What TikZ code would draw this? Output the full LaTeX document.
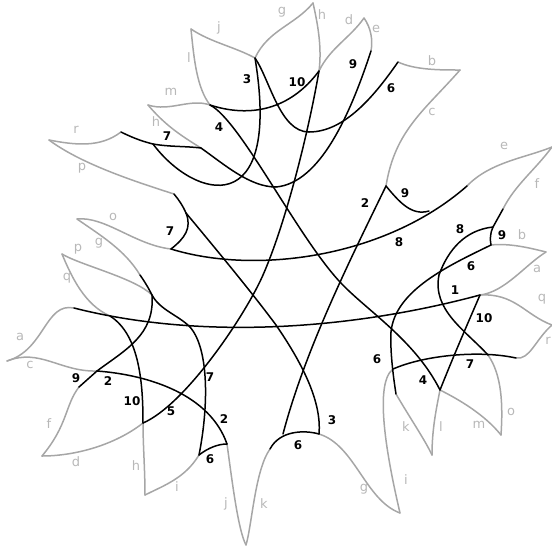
\documentclass[tikz,border=0pt]{standalone}
\usepackage{fontspec}
\setmainfont{DejaVu Sans}
\usetikzlibrary{positioning}

\begin{document}
\begin{tikzpicture}[
        x=1pt, y=-1pt,
        rim/.style={line width=1.5pt, black!35, line cap=round},
        seam/.style={line width=1.5pt, black, line cap=round},
        edgenum/.style={font=\fontsize{12}{12}\selectfont\bfseries, inner sep=0pt},
        sidename/.style={font=\fontsize{13}{13}\selectfont, text=black!28, inner sep=0pt}
    ]
    \useasboundingbox (0,0) rectangle (552,550);

    % Corners on the outline
    \coordinate (jl) at (191,29);
    \coordinate (jg) at (255,58);
    \coordinate (lm) at (210,105);
    \coordinate (mh) at (148,105);
    \coordinate (hs) at (201,148);
    \coordinate (rp) at (49,140);
    \coordinate (rs) at (121,132);
    \coordinate (ps) at (174,194);
    \coordinate (og) at (77,219);
    \coordinate (os) at (171,249);
    \coordinate (gs) at (140,275);
    \coordinate (pq) at (62,254);
    \coordinate (pg) at (152,295);
    \coordinate (qs) at (110,316);
    \coordinate (as) at (74,308);
    \coordinate (ac) at (7,361);
    \coordinate (cs) at (97,371);
    \coordinate (fs) at (79,387);
    \coordinate (fd) at (42,456);
    \coordinate (dh) at (143,423);
    \coordinate (hi) at (145,495);
    \coordinate (is) at (199,455);
    \coordinate (js) at (227,444);
    \coordinate (jk) at (246,545);
    \coordinate (ks) at (270,449);
    \coordinate (gb) at (319,434);
    \coordinate (gi) at (400,513);
    \coordinate (ib) at (393,369);
    \coordinate (kb) at (396,394);
    \coordinate (kl) at (432,455);
    \coordinate (lb) at (440,390);
    \coordinate (mo) at (501,435);
    \coordinate (ob) at (488,355);
    \coordinate (rb) at (516,358);
    \coordinate (qr) at (552,325);
    \coordinate (qa) at (480,295);
    \coordinate (ab) at (546,252);
    \coordinate (bb) at (491,245);
    \coordinate (fb) at (503,209);
    \coordinate (fe) at (552,147);
    \coordinate (eb) at (467,186);
    \coordinate (cb) at (386,186);
    \coordinate (cc) at (460,70);
    \coordinate (bt) at (398,62);
    \coordinate (et) at (371,51);
    \coordinate (de) at (364,18);
    \coordinate (dh2) at (319,71);
    \coordinate (gh) at (313,3);

    % Points where the seams bend or meet
    \coordinate (sa) at (153,144);
    \coordinate (sb) at (276,187);
    \coordinate (sc) at (340,282);
    \coordinate (sd) at (309,132);
    \coordinate (se) at (263,275);
    \coordinate (sf) at (186,213);
    \coordinate (sg) at (276,325);
    \coordinate (sh) at (429,211);
    \coordinate (si) at (493,227);
    \coordinate (sj) at (439,275);
    \coordinate (sk) at (391,332);
    \coordinate (sl) at (190,327);
    \coordinate (sm) at (283,434);

    % Outline
    \draw[rim] (jl) .. controls (210,42) and (235,47) .. (jg);
    \draw[rim] (jl) .. controls (194,60) and (197,88) .. (lm);
    \draw[rim] (mh) .. controls (170,112) and (190,98) .. (lm);
    \draw[rim] (mh) .. controls (165,125) and (180,135) .. (hs);
    \draw[rim] (rp) .. controls (75,145) and (100,148) .. (rs);
    \draw[rim] (rp) .. controls (80,163) and (130,180) .. (ps);
    \draw[rim] (og) .. controls (105,216) and (135,245) .. (os);
    \draw[rim] (og) .. controls (100,235) and (125,250) .. (gs);
    \draw[rim] (pq) .. controls (80,265) and (135,278) .. (pg);
    \draw[rim] (pq) .. controls (72,278) and (85,305) .. (qs);
    \draw[rim] (as) .. controls (45,302) and (45,350) .. (ac);
    \draw[rim] (ac) .. controls (40,348) and (60,372) .. (cs);
    \draw[rim] (fs) .. controls (65,405) and (68,425) .. (fd);
    \draw[rim] (fd) .. controls (75,456) and (115,445) .. (dh);
    \draw[rim] (dh) .. controls (143,445) and (145,470) .. (hi);
    \draw[rim] (hi) .. controls (165,485) and (185,478) .. (is);
    \draw[rim] (js) .. controls (232,480) and (238,530) .. (jk);
    \draw[rim] (jk) .. controls (252,525) and (255,470) .. (ks);
    \draw[rim] (gb) .. controls (355,445) and (365,500) .. (gi);
    \draw[rim] (gi) .. controls (390,470) and (372,385) .. (ib);
    \draw[rim] (kb) .. controls (410,418) and (425,440) .. (kl);
    \draw[rim] (kl) .. controls (432,430) and (436,410) .. (lb);
    \draw[rim] (lb) .. controls (460,400) and (485,415) .. (mo);
    \draw[rim] (mo) .. controls (503,405) and (502,375) .. (ob);
    \draw[rim] (rb) .. controls (530,360) and (535,340) .. (qr);
    \draw[rim] (qr) .. controls (525,315) and (515,293) .. (qa);
    \draw[rim] (qa) .. controls (505,292) and (525,265) .. (ab);
    \draw[rim] (bb) .. controls (510,243) and (530,248) .. (ab);
    \draw[rim] (fb) .. controls (515,185) and (535,170) .. (fe);
    \draw[rim] (fe) .. controls (525,158) and (490,162) .. (eb);
    \draw[rim] (cb) .. controls (395,130) and (425,110) .. (cc);
    \draw[rim] (bt) .. controls (415,70) and (440,70) .. (cc);
    \draw[rim] (et) .. controls (373,40) and (371,28) .. (de);
    \draw[rim] (de) .. controls (350,38) and (330,48) .. (dh2);
    \draw[rim] (dh2) .. controls (322,48) and (318,25) .. (gh);
    \draw[rim] (gh) .. controls (295,25) and (268,30) .. (jg);

    % Seams
    \draw[seam] (as) .. controls (200,340) and (350,330) .. (qa);
    \draw[seam] (jg) .. controls (282,222) and (195,200) .. (sa);
    \draw[seam] (rs) .. controls (135,139) and (145,142) .. (sa);
    \draw[seam] (sa) .. controls (170,147) and (185,146) .. (hs);
    \draw[seam] (hs) .. controls (225,165) and (250,187) .. (sb);
    \draw[seam] (sb) .. controls (320,183) and (350,115) .. (et);
    \draw[seam] (lm) .. controls (240,120) and (297,236) .. (sc);
    \draw[seam] (sc) .. controls (366,310) and (415,340) .. (lb);
    \draw[seam] (lm) .. controls (250,118) and (290,110) .. (dh2);
    \draw[seam] (jg) .. controls (270,80) and (280,132) .. (sd);
    \draw[seam] (sd) .. controls (345,132) and (375,95) .. (bt);
    \draw[seam] (dh2) .. controls (308,135) and (285,225) .. (se);
    \draw[seam] (se) .. controls (245,316) and (185,405) .. (dh);
    \draw[seam] (cb) .. controls (350,260) and (305,350) .. (sm);
    \draw[seam] (ps) .. controls (179,200) and (183,206) .. (sf);
    \draw[seam] (sf) .. controls (192,228) and (185,238) .. (os);
    \draw[seam] (sf) .. controls (215,248) and (250,290) .. (sg);
    \draw[seam] (sg) .. controls (300,360) and (322,400) .. (gb);
    \draw[seam] (os) .. controls (255,275) and (385,258) .. (eb);
    \draw[seam] (cb) .. controls (400,203) and (412,216) .. (sh);
    \draw[seam] (fb) -- (si);
    \draw[seam] (si) .. controls (490,233) and (490,240) .. (bb);
    \draw[seam] (si) .. controls (465,230) and (448,250) .. (sj);
    \draw[seam] (sj) .. controls (432,310) and (465,330) .. (ob);
    \draw[seam] (bb) .. controls (450,265) and (395,290) .. (sk);
    \draw[seam] (sk) .. controls (390,350) and (393,375) .. (kb);
    \draw[seam] (ib) .. controls (425,355) and (480,350) .. (rb);
    \draw[seam] (qa) .. controls (464,332) and (454,355) .. (lb);
    \draw[seam] (cs) .. controls (150,375) and (210,395) .. (js);
    \draw[seam] (qs) .. controls (140,335) and (143,385) .. (dh);
    \draw[seam] (fs) -- (cs);
    \draw[seam] (cs) .. controls (125,350) and (155,335) .. (pg);
    \draw[seam] (gs) .. controls (145,282) and (149,289) .. (pg);
    \draw[seam] (pg) .. controls (160,310) and (178,315) .. (sl);
    \draw[seam] (sl) .. controls (210,350) and (208,410) .. (is);
    \draw[seam] (is) .. controls (208,448) and (218,444) .. (js);
    \draw[seam] (ks) .. controls (280,430) and (305,430) .. (gb);

    % Seam numbers
    \node[edgenum] (n3a) at (247,79) {3};
    \node[edgenum] (n10a) at (297,82) {10};
    \node[edgenum] (n9a) at (353,64) {9};
    \node[edgenum] (n6a) at (391,88) {6};
    \node[edgenum] (n4a) at (219,127) {4};
    \node[edgenum] (n7a) at (167,136) {7};
    \node[edgenum] (n7b) at (170,231) {7};
    \node[edgenum] (n2a) at (365,203) {2};
    \node[edgenum] (n9b) at (405,193) {9};
    \node[edgenum] (n8a) at (399,242) {8};
    \node[edgenum] (n8b) at (460,229) {8};
    \node[edgenum] (n9c) at (502,235) {9};
    \node[edgenum] (n6b) at (471,266) {6};
    \node[edgenum] (n1a) at (455,290) {1};
    \node[edgenum] (n10b) at (484,318) {10};
    \node[edgenum] (n6c) at (377,359) {6};
    \node[edgenum] (n4b) at (423,380) {4};
    \node[edgenum] (n7c) at (470,364) {7};
    \node[edgenum] (n3b) at (332,420) {3};
    \node[edgenum] (n6d) at (298,445) {6};
    \node[edgenum] (n9d) at (76,378) {9};
    \node[edgenum] (n2b) at (108,381) {2};
    \node[edgenum] (n10c) at (132,401) {10};
    \node[edgenum] (n5a) at (171,411) {5};
    \node[edgenum] (n7d) at (210,377) {7};
    \node[edgenum] (n2c) at (224,419) {2};
    \node[edgenum] (n6e) at (210,459) {6};

    % Side names
    \node[sidename] (tj) at (219,28) {j};
    \node[sidename] (tg) at (282,12) {g};
    \node[sidename] (th) at (322,15) {h};
    \node[sidename] (td) at (349,20) {d};
    \node[sidename] (te) at (376,29) {e};
    \node[sidename] (tl) at (189,58) {l};
    \node[sidename] (tm) at (171,92) {m};
    \node[sidename] (th2) at (156,122) {h};
    \node[sidename] (tr) at (76,130) {r};
    \node[sidename] (tp) at (82,168) {p};
    \node[sidename] (to) at (113,217) {o};
    \node[sidename] (tg2) at (99,243) {g};
    \node[sidename] (tp2) at (78,249) {p};
    \node[sidename] (tq) at (67,278) {q};
    \node[sidename] (ta) at (20,337) {a};
    \node[sidename] (tc) at (30,365) {c};
    \node[sidename] (tf) at (49,424) {f};
    \node[sidename] (td2) at (76,462) {d};
    \node[sidename] (th3) at (136,466) {h};
    \node[sidename] (ti) at (177,487) {i};
    \node[sidename] (tj2) at (226,504) {j};
    \node[sidename] (tk) at (264,504) {k};
    \node[sidename] (tg3) at (364,489) {g};
    \node[sidename] (ti2) at (406,480) {i};
    \node[sidename] (tk2) at (406,427) {k};
    \node[sidename] (tl2) at (441,427) {l};
    \node[sidename] (tm2) at (479,425) {m};
    \node[sidename] (to2) at (511,412) {o};
    \node[sidename] (tq2) at (542,299) {q};
    \node[sidename] (tr2) at (548,341) {r};
    \node[sidename] (ta2) at (537,269) {a};
    \node[sidename] (tb) at (522,235) {b};
    \node[sidename] (tf2) at (537,184) {f};
    \node[sidename] (te2) at (504,146) {e};
    \node[sidename] (tc2) at (432,112) {c};
    \node[sidename] (tb2) at (432,61) {b};

\end{tikzpicture}
\end{document}
